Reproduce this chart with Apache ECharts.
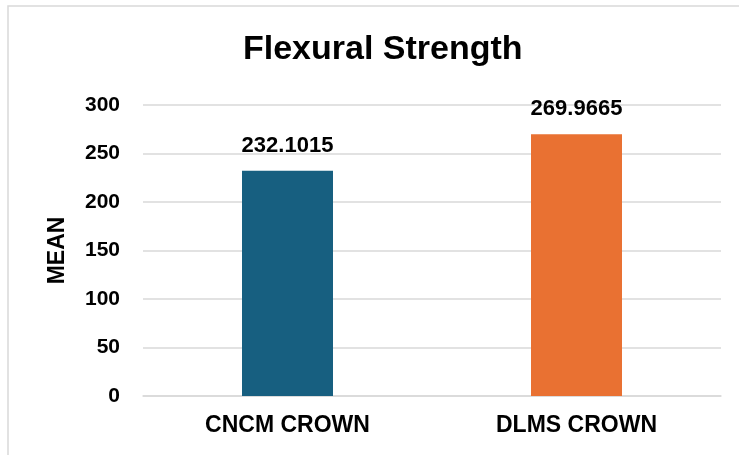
<!DOCTYPE html>
<html>
<head>
<meta charset="utf-8">
<script src="https://cdn.jsdelivr.net/npm/echarts@6/dist/echarts.min.js"></script>
<style>html,body{margin:0;padding:0;background:#fff;}#c{width:739px;height:455px;}</style>
</head>
<body>
<div id="c"></div>
<script>
const categories = ['CNCM CROWN', 'DLMS CROWN'];
const meanValues = [232.1015, 269.9665];
const barColors = ['#175F80', '#E97132'];
const yTicks = { min: 0, max: 300, interval: 50 };
const titleText = 'Flexural Strength';
const yAxisName = 'MEAN';

const FONT = '"Liberation Sans", Arial, sans-serif';
const chart = echarts.init(document.getElementById('c'), null, { renderer: 'canvas' });
chart.setOption({
  backgroundColor: '#ffffff',
  animation: false,
  title: {
    text: titleText, left: 238, top: 28,
    textStyle: { fontFamily: FONT, fontWeight: 'bold', fontSize: 34, color: '#000' }
  },
  graphic: [{
    type: 'polyline', silent: true,
    shape: { points: [[8, 455], [8, 6], [739, 6]] },
    style: { stroke: '#d9d9d9', lineWidth: 1.5, fill: null }
  }],
  grid: { left: 143, right: 18, top: 105, bottom: 59 },
  xAxis: {
    type: 'category', data: categories,
    axisLine: { show: true, lineStyle: { color: '#d9d9d9', width: 1.5 } },
    axisTick: { show: false },
    axisLabel: { margin: 18, fontFamily: FONT, fontWeight: 'bold', fontSize: 23, color: '#000' }
  },
  yAxis: {
    type: 'value', min: yTicks.min, max: yTicks.max, interval: yTicks.interval,
    name: yAxisName, nameLocation: 'middle', nameGap: 74, nameRotate: 90,
    nameTextStyle: { fontFamily: FONT, fontWeight: 'bold', fontSize: 23, color: '#000' },
    axisLine: { show: false }, axisTick: { show: false },
    splitLine: { lineStyle: { color: '#d9d9d9', width: 1.5 } },
    axisLabel: { margin: 23, fontFamily: FONT, fontWeight: 'bold', fontSize: 21, color: '#000' }
  },
  series: [{
    type: 'bar', barWidth: 91,
    data: meanValues.map((v, i) => ({ value: v, itemStyle: { color: barColors[i] } })),
    label: {
      show: true, position: 'top', distance: 14,
      fontFamily: FONT, fontWeight: 'bold', fontSize: 22, color: '#000',
      formatter: p => String(p.value.toFixed(4))
    }
  }]
});
</script>
</body>
</html>
